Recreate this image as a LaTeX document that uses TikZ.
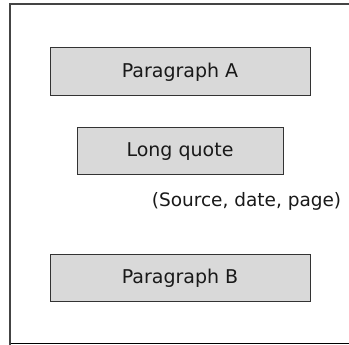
\documentclass[tikz,border=0pt]{standalone}
\usepackage{fontspec}
\setmainfont{DejaVu Sans}
\definecolor{boxfill}{HTML}{D9D9D9}
\definecolor{boxline}{HTML}{333333}
\definecolor{frameline}{HTML}{444444}
\definecolor{baseline}{HTML}{DDDDDD}
\begin{document}
\begin{tikzpicture}[x=1pt,y=-1pt,
  block/.style={draw=boxline, fill=boxfill, line width=1pt, inner sep=0pt,
    font=\fontsize{19}{23}\selectfont, text=black!90},
  caption/.style={font=\fontsize{18.5}{22}\selectfont, text=black!90, inner sep=0pt}]
  \useasboundingbox (0,0) rectangle (349,345);
  % page frame
  \draw[frameline, line width=2pt] (9.5,345) -- (9.5,4.5) -- (349,4.5);
  \draw[baseline, line width=1.5pt] (10.5,343.5) -- (349,343.5);
  % blocks
  \node[block, minimum width=260, minimum height=48] (pa) at (180,72) {Paragraph A};
  \node[block, minimum width=206, minimum height=47] (quote) at (180,151.5) {Long quote};
  \node[caption, anchor=base] (src) at (246.5,207) {(Source, date, page)};
  \node[block, minimum width=260, minimum height=47] (pb) at (180,278.5) {Paragraph B};
\end{tikzpicture}
\end{document}
